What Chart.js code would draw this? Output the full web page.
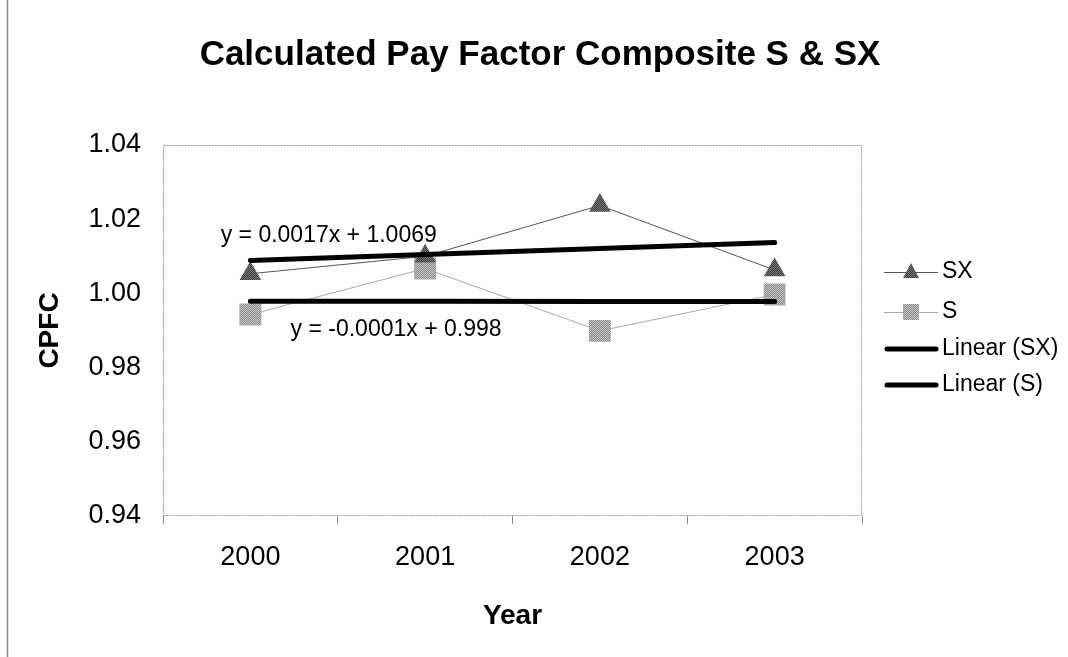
<!DOCTYPE html>
<html>
<head>
<meta charset="utf-8">
<script src="https://cdn.jsdelivr.net/npm/chart.js@4"></script>
<style>
  html, body { margin: 0; padding: 0; background: #fff; }
  #wrap { width: 1068px; height: 657px; position: relative; }
</style>
</head>
<body>
<div id="wrap"><canvas id="cpfc"></canvas></div>
<script>
const years = ["2000", "2001", "2002", "2003"];
const sxValues = [1.0053, 1.0100, 1.0237, 1.0063];
const sValues = [0.9943, 1.0067, 0.9899, 0.9997];
const sxTrend = [1.0089, 1.0105, 1.0121, 1.0137];
const sTrend = [0.9979, 0.9979, 0.9978, 0.9978];
const yTicks = [0.94, 0.96, 0.98, 1.00, 1.02, 1.04];
const legendLabels = ["SX", "S", "Linear (SX)", "Linear (S)"];
const equations = ["y = 0.0017x + 1.0069", "y = -0.0001x + 0.998"];
const chartTitle = "Calculated Pay Factor Composite S & SX";

const FONT = "'Liberation Sans', Arial, sans-serif";
const canvas = document.getElementById("cpfc");
const ctx0 = canvas.getContext("2d");

// small checker pattern to fake the dithered markers
function dither(c1, c2) {
  const p = document.createElement("canvas");
  p.width = 2;
  p.height = 2;
  const g = p.getContext("2d");
  g.fillStyle = c1;
  g.fillRect(0, 0, 2, 2);
  g.fillStyle = c2;
  g.fillRect(0, 0, 1, 1);
  g.fillRect(1, 1, 1, 1);
  return ctx0.createPattern(p, "repeat");
}
const darkFill = dither("#3a3a3a", "#7a7a7a");
const lightFill = dither("#8c8c8c", "#c4c4c4");

const frame = {
  id: "frame",
  beforeDraw(chart) {
    const { ctx, chartArea: a } = chart;
    ctx.save();
    ctx.fillStyle = "#fff";
    ctx.fillRect(0, 0, chart.width, chart.height);
    ctx.strokeStyle = "#8a8a8a";
    ctx.lineWidth = 1.5;
    ctx.beginPath();
    ctx.moveTo(7.5, 0);
    ctx.lineTo(7.5, chart.height);
    ctx.stroke();
    ctx.strokeStyle = "#9a9a9a";
    ctx.lineWidth = 1;
    ctx.setLineDash([2, 1]);
    ctx.strokeRect(Math.round(a.left) + 0.5, Math.round(a.top) + 0.5,
      Math.round(a.width) - 1, Math.round(a.height) - 1);
    ctx.setLineDash([]);
    // title sits over the whole picture, not just the plot
    ctx.fillStyle = "#000";
    ctx.font = "bold 35px " + FONT;
    ctx.textAlign = "center";
    ctx.textBaseline = "middle";
    ctx.fillText(chartTitle, 540, 55);
    ctx.restore();
  }
};

const equationLabels = {
  id: "equationLabels",
  afterDatasetsDraw(chart) {
    const { ctx, scales } = chart;
    const spots = [[-0.17, 1.0155], [0.23, 0.9903]];
    ctx.save();
    ctx.font = "23px " + FONT;
    ctx.fillStyle = "#000";
    ctx.textBaseline = "middle";
    equations.forEach((txt, i) => {
      ctx.fillText(txt, scales.x.getPixelForValue(spots[i][0]), scales.y.getPixelForValue(spots[i][1]));
    });
    ctx.restore();
  }
};

const sideLegend = {
  id: "sideLegend",
  afterDraw(chart) {
    const ctx = chart.ctx;
    const x0 = 884, x1 = 938, tx = 942;
    const rows = [272, 312, 349, 385];
    ctx.save();
    ctx.font = "23px " + FONT;
    ctx.textBaseline = "middle";
    legendLabels.forEach((label, i) => {
      const y = rows[i];
      ctx.beginPath();
      if (i < 2) {
        ctx.lineWidth = 1;
        ctx.strokeStyle = i === 0 ? "#555" : "#aaa";
        ctx.moveTo(x0, y + 0.5);
        ctx.lineTo(x1, y + 0.5);
        ctx.stroke();
        const cx = (x0 + x1) / 2;
        ctx.beginPath();
        if (i === 0) {
          ctx.moveTo(cx, y - 9);
          ctx.lineTo(cx + 8, y + 6);
          ctx.lineTo(cx - 8, y + 6);
          ctx.closePath();
          ctx.fillStyle = darkFill;
        } else {
          ctx.rect(cx - 8, y - 8, 16, 16);
          ctx.fillStyle = lightFill;
        }
        ctx.fill();
      } else {
        ctx.lineWidth = 5;
        ctx.lineCap = "round";
        ctx.strokeStyle = "#000";
        ctx.moveTo(x0 + 3, y);
        ctx.lineTo(x1 - 2, y);
        ctx.stroke();
      }
      ctx.fillStyle = "#000";
      ctx.fillText(label, tx, y);
    });
    ctx.restore();
  }
};

new Chart(canvas, {
  type: "line",
  data: {
    labels: years,
    datasets: [
      {
        label: legendLabels[2],
        data: sxTrend,
        borderColor: "#000",
        borderWidth: 5,
        borderCapStyle: "round",
        pointRadius: 0,
        order: 0
      },
      {
        label: legendLabels[3],
        data: sTrend,
        borderColor: "#000",
        borderWidth: 5,
        borderCapStyle: "round",
        pointRadius: 0,
        order: 0
      },
      {
        label: legendLabels[0],
        data: sxValues,
        borderColor: "#555",
        borderWidth: 1,
        pointStyle: "triangle",
        pointRadius: 12.5,
        pointBackgroundColor: darkFill,
        pointBorderWidth: 0,
        order: 1
      },
      {
        label: legendLabels[1],
        data: sValues,
        borderColor: "#aaa",
        borderWidth: 1,
        pointStyle: "rect",
        pointRadius: 15.5,
        pointBackgroundColor: lightFill,
        pointBorderWidth: 0,
        order: 2
      }
    ]
  },
  options: {
    responsive: true,
    maintainAspectRatio: false,
    animation: false,
    events: [],
    layout: {
      padding: { top: 145, right: 206, bottom: 0, left: 0 }
    },
    scales: {
      x: {
        offset: true,
        grid: {
          display: true,
          offset: true,
          drawOnChartArea: false,
          drawTicks: true,
          tickLength: 8,
          color: "#888"
        },
        border: { display: false },
        ticks: {
          color: "#000",
          padding: 17,
          maxRotation: 0,
          font: { family: FONT, size: 27 }
        },
        title: {
          display: true,
          text: "Year",
          color: "#000",
          font: { family: FONT, size: 28, weight: "bold" },
          padding: { top: 0, bottom: 24 }
        },
        afterFit(scale) {
          scale.height = 141;
        }
      },
      y: {
        min: yTicks[0],
        max: yTicks[yTicks.length - 1],
        afterBuildTicks(scale) {
          scale.ticks = yTicks.map(v => ({ value: v }));
        },
        grid: { display: false, drawTicks: false },
        border: { display: false },
        ticks: {
          color: "#000",
          padding: 22,
          font: { family: FONT, size: 27 },
          callback: value => Number(value).toFixed(2)
        },
        title: {
          display: true,
          text: "CPFC",
          color: "#000",
          font: { family: FONT, size: 28, weight: "bold" },
          padding: { top: 33, bottom: 0 }
        },
        afterFit(scale) {
          scale.width = 163;
        }
      }
    },
    plugins: {
      legend: { display: false },
      tooltip: { enabled: false },
      title: { display: false }
    }
  },
  plugins: [frame, equationLabels, sideLegend]
});
</script>
</body>
</html>
